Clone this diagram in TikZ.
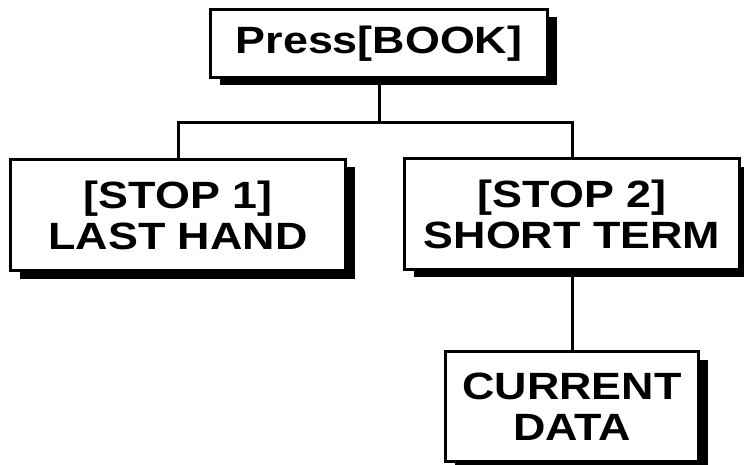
\documentclass[tikz,border=0pt]{standalone}
\usepackage{fontspec}
\setmainfont{Liberation Sans}[FakeStretch=1.18]
\usetikzlibrary{shadows}
\begin{document}
\begin{tikzpicture}[x=1pt,y=-1pt,
  box/.style={draw=black, fill=white, line width=3pt, rectangle, align=center,
    inner sep=0pt,
    font=\fontsize{38}{41}\selectfont\bfseries,
    drop shadow={shadow xshift=9pt, shadow yshift=-8pt, fill=black, opacity=1}},
  conn/.style={line width=3pt}]
\clip (0,0) rectangle (744,465);
\useasboundingbox (0,0) rectangle (744,465);
\fill[white] (0,0) rectangle (744,465);
\node[box, minimum width=337pt, minimum height=68pt] (top) at (379,43.5) {Press[BOOK]};
\node[box, minimum width=335pt, minimum height=111pt] (left) at (178,215) {[STOP 1]\\LAST HAND};
\node[box, minimum width=335pt, minimum height=110pt] (right) at (572,214) {[STOP 2]\\SHORT TERM};
\node[box, minimum width=253pt, minimum height=110pt] (cur) at (572,406.5) {CURRENT\\DATA};
\coordinate (j) at (379,123);
\draw[conn] (top.south) -- (j);
\draw[conn] (left.north) |- (j) -| (right.north);
\draw[conn] (right.south) -- (cur.north);
\end{tikzpicture}
\end{document}
